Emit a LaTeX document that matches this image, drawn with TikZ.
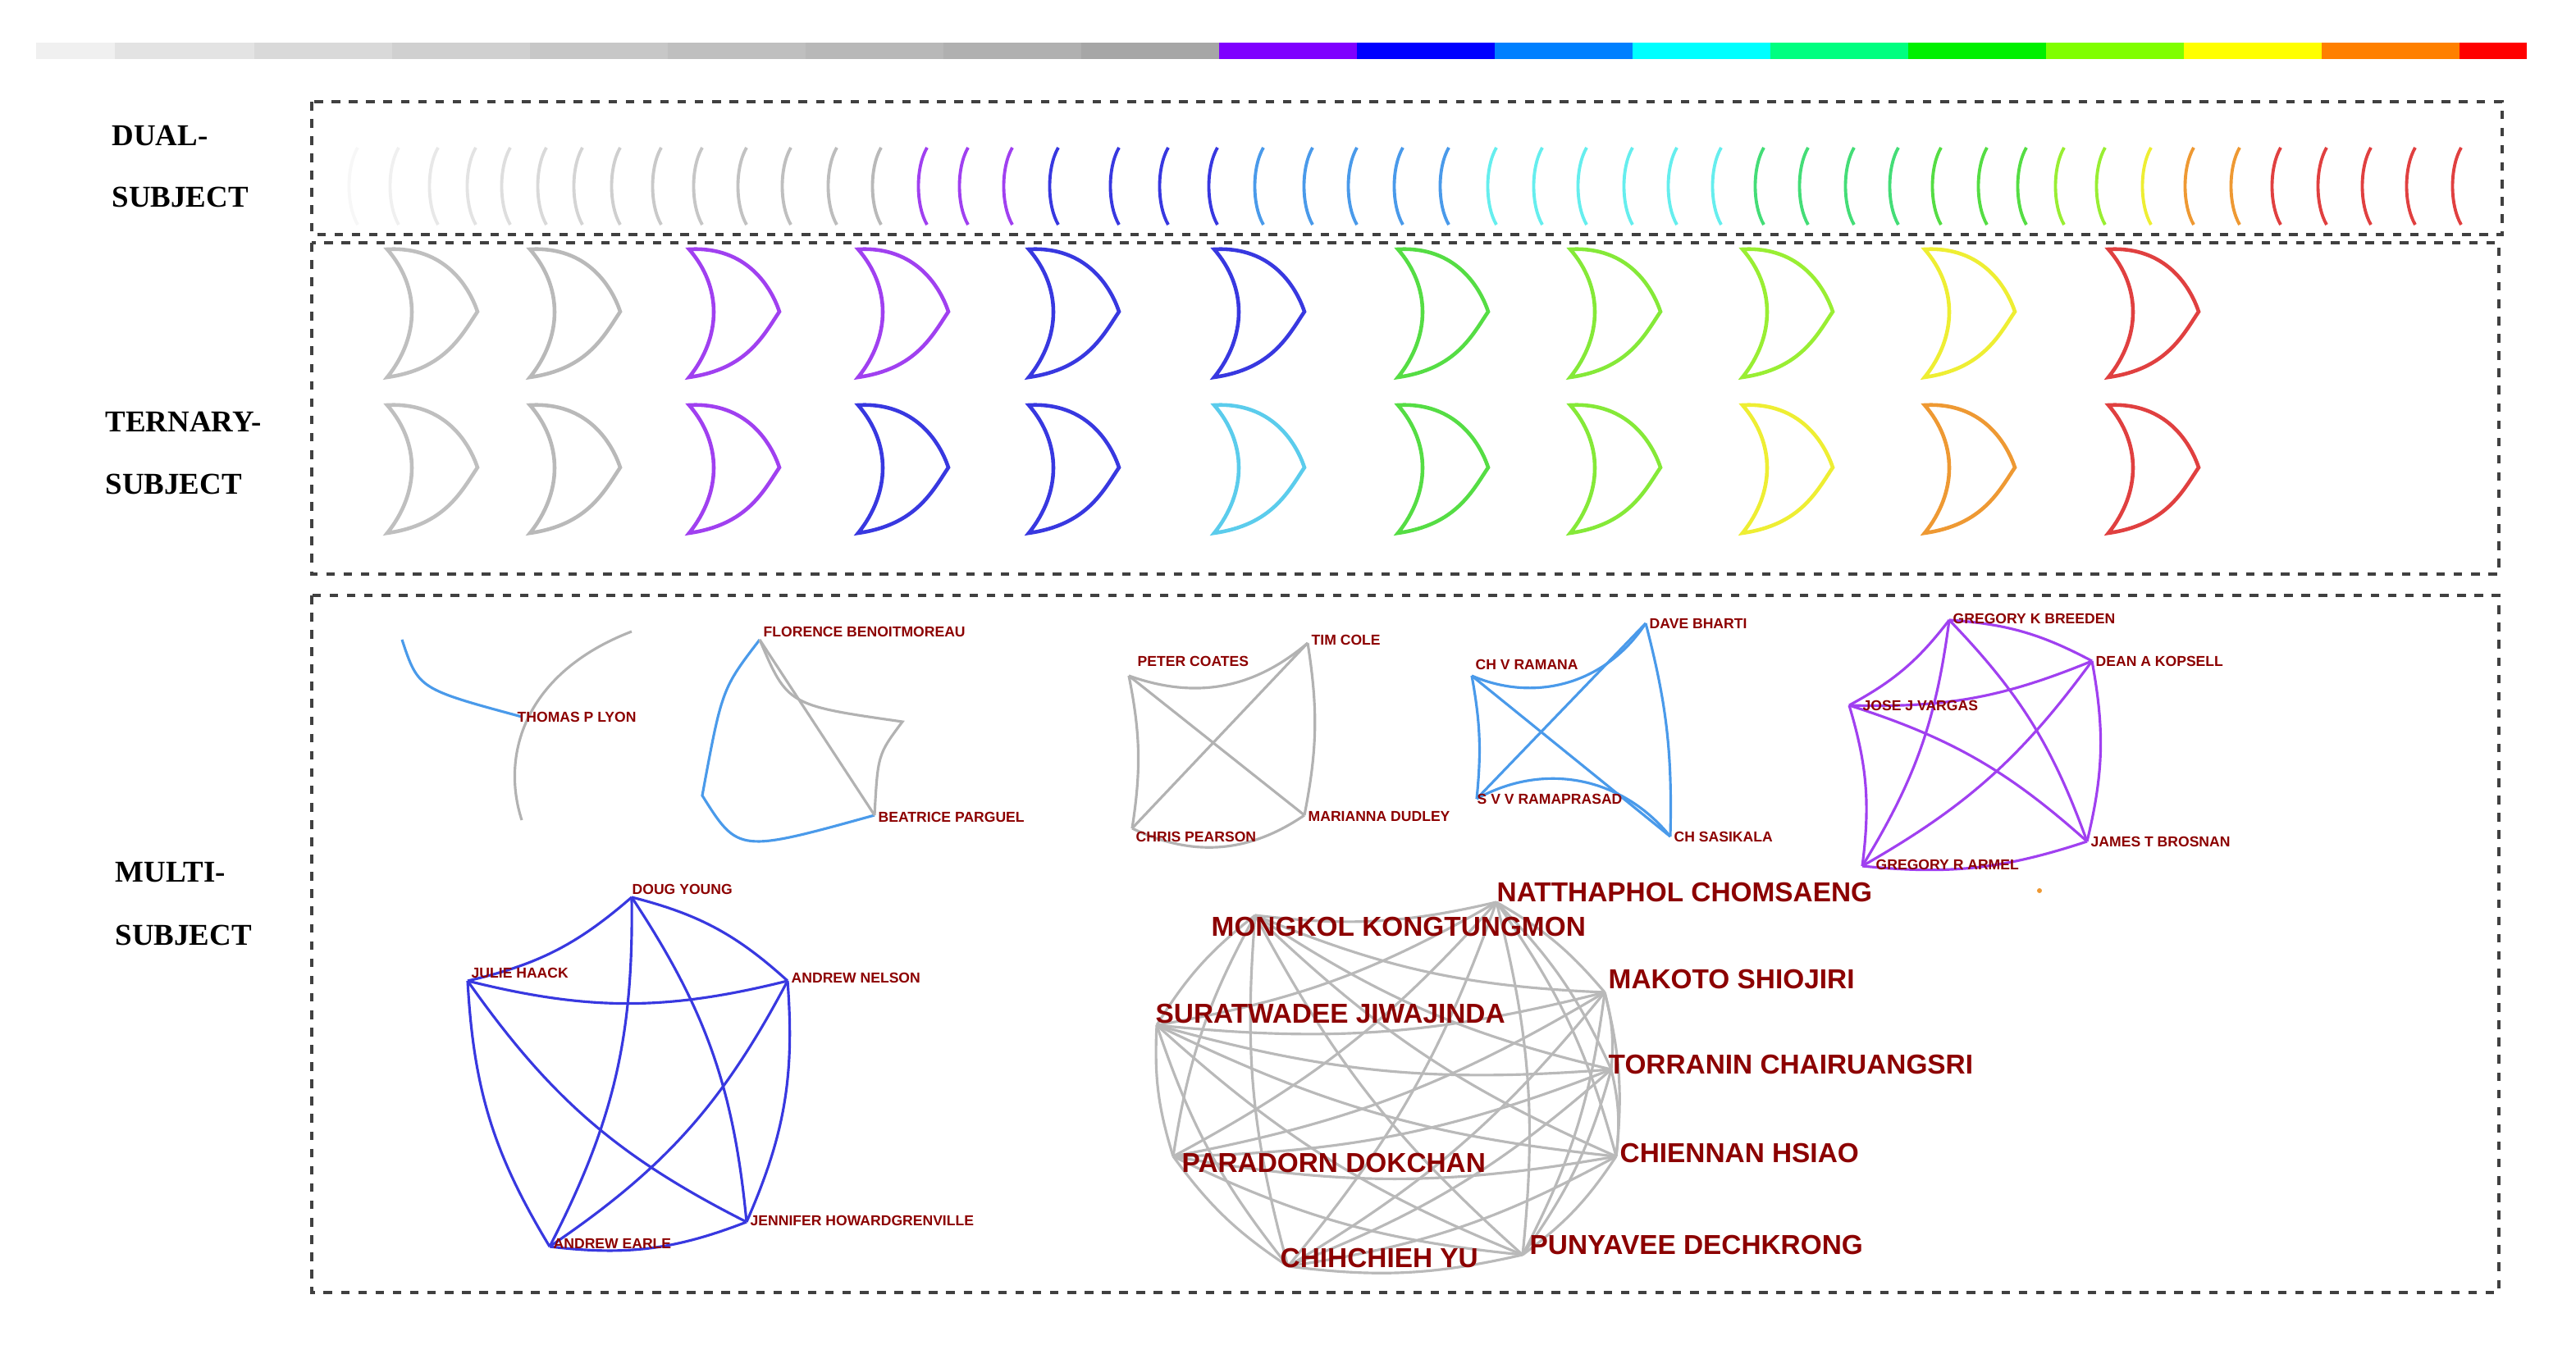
\documentclass[tikz,border=0pt]{standalone}
\usepackage{fontspec}
\setmainfont{Liberation Serif}
\newfontfamily\lsans{Liberation Sans}
\begin{document}
\begin{tikzpicture}[x=0.02cm,y=-0.02cm,
  box/.style={draw=black!75,dashed,line width=0.9pt},
  sec/.style={font=\bfseries\fontsize{10.5}{12}\selectfont,anchor=west,inner sep=0},
  sm/.style={font=\lsans\bfseries\fontsize{5}{6}\selectfont,text=red!55!black,anchor=west,inner sep=0},
  big/.style={font=\lsans\bfseries\fontsize{9.5}{11}\selectfont,text=red!55!black,anchor=west,inner sep=0},
  arc/.style={line width=1.1pt},
  cres/.style={line width=1.3pt},
  edge/.style={line width=0.9pt}]
\definecolor{pur}{HTML}{A040F0}\definecolor{blu}{HTML}{3838E0}
\definecolor{lblu}{HTML}{4A9AEA}\definecolor{cyn}{HTML}{66EEEE}
\definecolor{sgrn}{HTML}{44DD77}\definecolor{grn}{HTML}{55DD44}
\definecolor{lime}{HTML}{99EE33}\definecolor{yel}{HTML}{EEEE33}
\definecolor{org}{HTML}{EE9933}\definecolor{rd}{HTML}{E04040}
\definecolor{nred}{HTML}{8B1A1A}
\useasboundingbox (0,0) rectangle (1570,820);
% colour bar
\foreach \xa/\xb/\c in {22/70/gray!12,70/155/gray!22,155/239/gray!30,239/323/gray!37,323/407/gray!44,407/491/gray!50,491/575/gray!56,575/659/gray!62,659/743/gray!70}
  \fill[\c] (\xa,26) rectangle (\xb,36);
\foreach \xa/\xb/\c in {743/827/{rgb,255:red,127;green,0;blue,255},827/911/{rgb,255:red,0;green,0;blue,255},911/995/{rgb,255:red,0;green,128;blue,255},995/1079/{rgb,255:red,0;green,255;blue,255},1079/1163/{rgb,255:red,0;green,255;blue,128},1163/1247/{rgb,255:red,0;green,240;blue,0},1247/1331/{rgb,255:red,128;green,255;blue,0},1331/1415/{rgb,255:red,255;green,255;blue,0},1415/1499/{rgb,255:red,255;green,128;blue,0},1499/1540/{rgb,255:red,255;green,0;blue,0}}
  \fill[color=\c] (\xa,26) rectangle (\xb,36);
% boxes
\draw[box] (190,62) rectangle (1525,143);
\draw[box] (190,148) rectangle (1523,350);
\draw[box] (190,363) rectangle (1523,788);
\node[sec] (l1) at (68,83) {DUAL-};
\node[sec] (l2) at (68,120) {SUBJECT};
\node[sec] (l3) at (64,257) {TERNARY-};
\node[sec] (l4) at (64,295) {SUBJECT};
\node[sec] (l5) at (70,532) {MULTI-};
\node[sec] (l6) at (70,570) {SUBJECT};
% dual arcs
\foreach \x/\c in {213/gray!6,238/gray!12,262/gray!18,285/gray!22,306/gray!26,328/gray!30,350/gray!34,373/gray!38,398/gray!42,423/gray!45,450/gray!48,477/gray!50,505/gray!52,532/gray!55,560/pur,585/pur,612/pur,640/blu,677/blu,707/blu,737/blu,765/lblu,795/lblu,822/lblu,850/lblu,878/lblu,907/cyn,935/cyn,962/cyn,990/cyn,1017/cyn,1044/cyn,1070/sgrn,1097/sgrn,1125/sgrn,1152/sgrn,1178/grn,1206/grn,1230/grn,1253/lime,1278/lime,1306/yel,1332/org,1360/org,1385/rd,1413/rd,1440/rd,1467/rd,1495/rd}
  \draw[arc,draw=\c] (\x+5,90) .. controls (\x-2,102) and (\x-2,125) .. (\x+5,137);
% ternary crescents
\foreach \x/\c/\d in {236/gray!50/gray!50,323/gray!55/gray!55,420/pur/pur,523/pur/blu,627/blu/blu,740/blu/lblu!40!cyn,852/grn/grn,957/lime!70!grn/lime!70!grn,1062/lime/yel,1173/yel/org,1285/rd/rd}{
  \draw[cres,draw=\c] (\x,152) .. controls (\x+35,150) and (\x+50,175) .. (\x+55,190) .. controls (\x+45,205) and (\x+35,225) .. (\x,230) .. controls (\x+20,205) and (\x+20,175) .. cycle;
  \draw[cres,draw=\d] (\x,247) .. controls (\x+35,245) and (\x+50,270) .. (\x+55,285) .. controls (\x+45,300) and (\x+35,320) .. (\x,325) .. controls (\x+20,300) and (\x+20,270) .. cycle;}
% net 1
\coordinate (t1) at (318,437); \coordinate (t0) at (245,390); \coordinate (t2) at (385,385); \coordinate (t3) at (318,500);
\draw[edge,lblu] (t0) .. controls (255,420) .. (t1);
\draw[edge,gray!60] (t2) .. controls (320,410) and (305,460) .. (t3);
\node[sm] (n1) at (315,437) {THOMAS P LYON};
% net 2
\coordinate (f) at (463,390); \coordinate (b) at (533,497); \coordinate (a2) at (428,485); \coordinate (c2) at (550,440);
\draw[edge,lblu] (f) .. controls (440,420) .. (a2) .. controls (450,520) .. (b);
\draw[edge,gray!60] (f) .. controls (480,430) .. (c2) .. controls (535,460) .. (b);
\draw[edge,gray!60] (f) -- (b);
\node[sm] (n2) at (465,385) {FLORENCE BENOITMOREAU};
\node[sm] (n3) at (535,498) {BEATRICE PARGUEL};
% net 3
\coordinate (pc) at (688,412); \coordinate (tc) at (797,392); \coordinate (cp) at (690,505); \coordinate (md) at (795,497);
\foreach \a/\b/\k in {pc/tc/-30,pc/cp/10,pc/md/0,tc/cp/0,tc/md/10,cp/md/-30}
  \draw[edge,gray!60] (\a) to[bend left=\k] (\b);
\node[sm] (n4) at (693,403) {PETER COATES};
\node[sm] (n5) at (799,390) {TIM COLE};
\node[sm] (n6) at (692,510) {CHRIS PEARSON};
\node[sm] (n7) at (797,498) {MARIANNA DUDLEY};
% net 4
\coordinate (cr) at (897,412); \coordinate (db) at (1003,380); \coordinate (sv) at (900,487); \coordinate (cs) at (1018,510);
\foreach \a/\b/\k in {cr/db/-40,cr/sv/8,cr/cs/0,db/sv/0,db/cs/8,sv/cs/40}
  \draw[edge,lblu] (\a) to[bend left=\k] (\b);
\node[sm] (n8) at (899,405) {CH V RAMANA};
\node[sm] (n9) at (1005,380) {DAVE BHARTI};
\node[sm] (n10) at (900,487) {S V V RAMAPRASAD};
\node[sm] (n11) at (1020,510) {CH SASIKALA};
% net 5
\coordinate (p1) at (1188,378); \coordinate (p2) at (1275,403); \coordinate (p3) at (1127,430); \coordinate (p4) at (1272,513); \coordinate (p5) at (1135,528);
\foreach \i in {1,...,5}{\foreach \j in {1,...,5}{\ifnum\i<\j \draw[edge,pur] (p\i) to[bend left=12] (p\j);\fi}}
\node[sm] (n12) at (1190,377) {GREGORY K BREEDEN};
\node[sm] (n13) at (1277,403) {DEAN A KOPSELL};
\node[sm] (n14) at (1135,430) {JOSE J VARGAS};
\node[sm] (n15) at (1274,513) {JAMES T BROSNAN};
\node[sm] (n16) at (1143,527) {GREGORY R ARMEL};
\fill[org] (1243,543) circle (1.5);
% net 6
\coordinate (q1) at (385,547); \coordinate (q2) at (480,598); \coordinate (q3) at (455,745); \coordinate (q4) at (335,760); \coordinate (q5) at (285,598);
\foreach \i in {1,...,5}{\foreach \j in {1,...,5}{\ifnum\i<\j \draw[edge,blu] (q\i) to[bend left=14] (q\j);\fi}}
\node[sm] (n17) at (385,542) {DOUG YOUNG};
\node[sm] (n18) at (482,596) {ANDREW NELSON};
\node[sm] (n19) at (457,744) {JENNIFER HOWARDGRENVILLE};
\node[sm] (n20) at (337,758) {ANDREW EARLE};
\node[sm] (n21) at (287,593) {JULIE HAACK};
% net 7
\coordinate (g1) at (912,550); \coordinate (g2) at (978,605); \coordinate (g3) at (982,652); \coordinate (g4) at (985,705); \coordinate (g5) at (928,765);
\coordinate (g6) at (785,772); \coordinate (g7) at (715,705); \coordinate (g8) at (705,625); \coordinate (g9) at (765,558);
\foreach \i in {1,...,9}{\foreach \j in {1,...,9}{\ifnum\i<\j \draw[edge,gray!55] (g\i) to[bend left=10] (g\j);\fi}}
\node[big] (m1) at (912,544) {NATTHAPHOL CHOMSAENG};
\node[big] (m2) at (980,597) {MAKOTO SHIOJIRI};
\node[big] (m3) at (980,649) {TORRANIN CHAIRUANGSRI};
\node[big] (m4) at (987,703) {CHIENNAN HSIAO};
\node[big] (m5) at (932,759) {PUNYAVEE DECHKRONG};
\node[big] (m6) at (780,767) {CHIHCHIEH YU};
\node[big] (m7) at (720,709) {PARADORN DOKCHAN};
\node[big] (m8) at (704,618) {SURATWADEE JIWAJINDA};
\node[big] (m9) at (738,565) {MONGKOL KONGTUNGMON};
\end{tikzpicture}
\end{document}
